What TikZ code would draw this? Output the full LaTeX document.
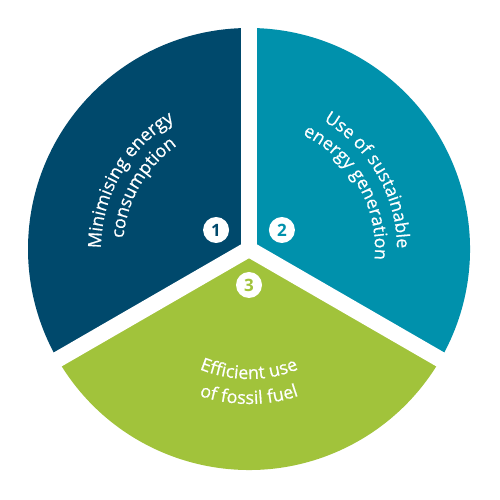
\documentclass[tikz,border=0pt]{standalone}
\usepackage{fontspec}
\setmainfont{Open Sans}
\usetikzlibrary{decorations.text}
\definecolor{cone}{HTML}{00496C}
\definecolor{ctwo}{HTML}{0091AC}
\definecolor{cthree}{HTML}{A1C33B}
\newcommand\segfont{\fontsize{18}{18}\selectfont\addfontfeature{FakeBold=0.6}}
\tikzset{
  gapline/.style={white, line width=16pt},
  curvetext/.style={decorate, decoration={text along path, text align=center, text color=white, text={|\segfont|#1}}},
  badge/.style={circle, fill=white, minimum size=26pt, inner sep=0pt, text=#1, font=\fontsize{17}{17}\selectfont\bfseries}
}
\begin{document}
\begin{tikzpicture}[x=1pt,y=1pt]
\useasboundingbox (0,0) rectangle (500,500);
\fill[white] (0,0) rectangle (500,500);
\coordinate (o) at (249,251);
\fill[cone] (o) -- ([shift={(90:221)}]o) arc[start angle=90,end angle=210,radius=221] -- cycle;
\fill[ctwo] (o) -- ([shift={(-30:221)}]o) arc[start angle=-30,end angle=90,radius=221] -- cycle;
\fill[cthree] (o) -- ([shift={(210:221)}]o) arc[start angle=210,end angle=330,radius=221] -- cycle;
\foreach \a in {90,210,330} \draw[gapline] (o) -- ([shift={(\a:240)}]o);
% segment 1
\path[curvetext={Minimising energy}] ([shift={(210:148)}]o) arc[start angle=210,end angle=90,radius=148];
\path[curvetext={consumption}] ([shift={(210:126)}]o) arc[start angle=210,end angle=90,radius=126];
% segment 2
\path[curvetext={Use of sustainable}] ([shift={(90:148)}]o) arc[start angle=90,end angle=-30,radius=148];
\path[curvetext={energy generation}] ([shift={(90:126)}]o) arc[start angle=90,end angle=-30,radius=126];
% segment 3
\path[curvetext={Efficient use}] ([shift={(210:130)}]o) arc[start angle=210,end angle=330,radius=130];
\path[curvetext={of fossil fuel}] ([shift={(210:155)}]o) arc[start angle=210,end angle=330,radius=155];
% badges
\node[badge=cone] (b1) at ([shift={(150:38)}]o) {1};
\node[badge=ctwo] (b2) at ([shift={(30:38)}]o) {2};
\node[badge=cthree] (b3) at ([shift={(270:36)}]o) {3};
\end{tikzpicture}
\end{document}
